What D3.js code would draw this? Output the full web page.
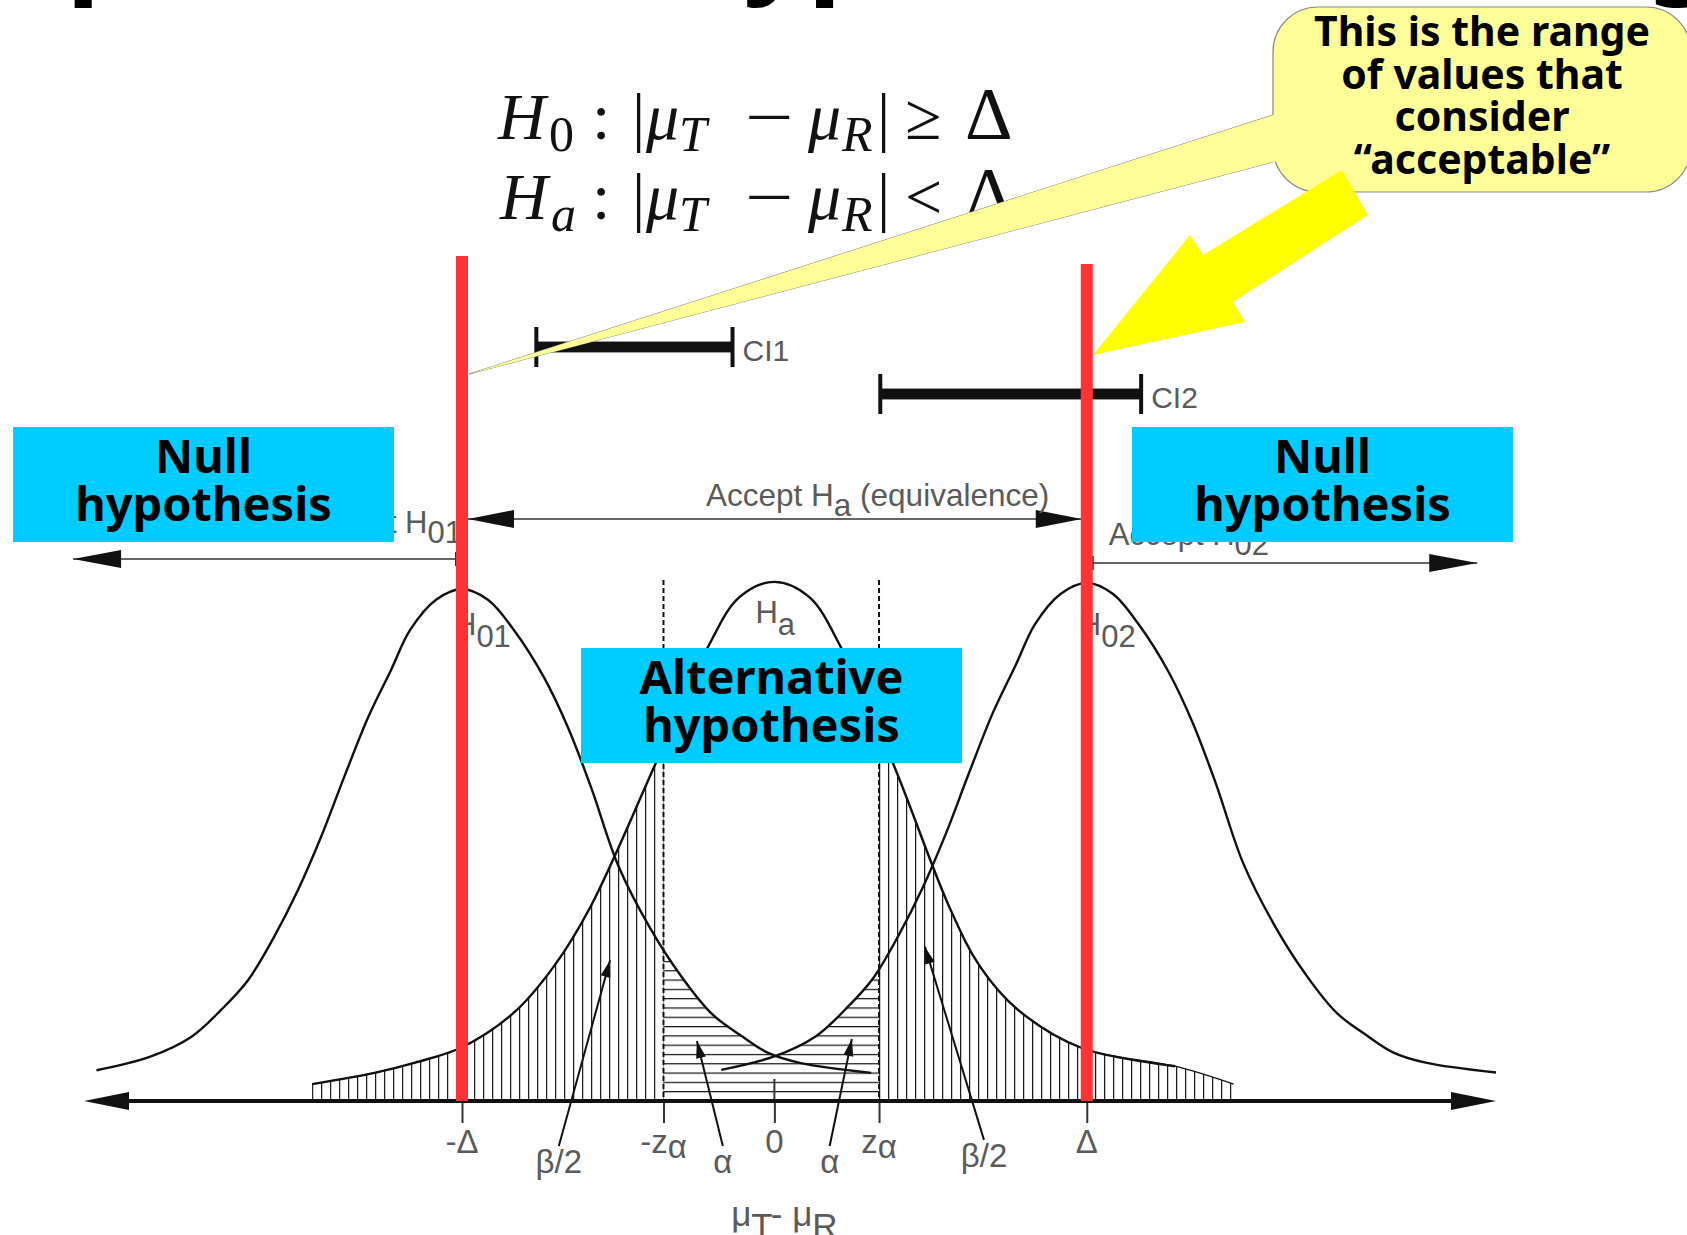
<!DOCTYPE html>
<html>
<head>
<meta charset="utf-8">
<script src="https://cdnjs.cloudflare.com/ajax/libs/d3/7.8.5/d3.min.js"></script>
<style>
html, body { margin: 0; padding: 0; background: #fff; }
svg { display: block; }
</style>
</head>
<body>
<svg id="chart" width="1687" height="1235"></svg>
<script>
// ---- data (x in units of delta, heights relative to the H01 peak)
var tickValues = [-1, -0.355, 0, 0.335, 1]
var tickLabels = ["-Δ", "-zα", "0", "zα", "Δ"]

// null curves (H01, H02): same shape
var nullOffsets = [-1.17, -1.0, -0.867, -0.771, -0.685, -0.602, -0.525, -0.451, -0.377, -0.30, -0.227, -0.166, -0.083, 0,
                   0.083, 0.166, 0.262, 0.339, 0.413, 0.5, 0.6, 0.7, 0.8, 0.9, 0.98, 1.085, 1.31]
var nullHeights = [0.06, 0.086, 0.125, 0.178, 0.236, 0.32, 0.412, 0.516, 0.633, 0.75, 0.842, 0.92, 0.979, 1.0,
                   0.979, 0.92, 0.828, 0.73, 0.613, 0.46, 0.34, 0.245, 0.17, 0.125, 0.094, 0.074, 0.055]
var nullCentres = [-1, 1]
var nullPeaks = [1.0, 1.012]
var nullNames = ["01", "02"]

// alternative curve (Ha), centred on 0; the last point only bounds the hatching
var altOffsets = [-1.48, -1.28, -1.15, -1.0, -0.835, -0.707, -0.589, -0.378, -0.214, -0.112, 0,
                  0.112, 0.214, 0.378, 0.56, 0.659, 0.78, 0.982, 1.283, 1.47]
var altHeights = [0.033, 0.055, 0.075, 0.105, 0.172, 0.262, 0.379, 0.662, 0.885, 0.984, 1.014,
                  0.984, 0.885, 0.662, 0.379, 0.262, 0.178, 0.104, 0.068, 0.033]

// confidence intervals
var ciNames = ["CI1", "CI2"]
var ciLow = [-0.762, 0.339]
var ciHigh = [-0.134, 1.174]

// pointer labels under the axis
var pointerLabels = ["β/2", "α", "α", "β/2"]
var pointerFrom = [[-0.690, -0.088], [-0.165, -0.088], [0.177, -0.088], [0.671, -0.076]]
var pointerTo = [[-0.526, 0.275], [-0.248, 0.117], [0.248, 0.121], [0.482, 0.301]]

var titleText = "Equivalence hypothesis testing"

// ---- setup
var svg = d3.select("#chart")
var x = d3.scaleLinear().domain([-2.21, 2.31]).range([84, 1496])
var y = d3.scaleLinear().domain([0, 1]).range([1101, 589])
var grey = "#5a5a5a"
var sans = "Liberation Sans, Arial, sans-serif"
var bold = "Noto Sans, Open Sans, sans-serif"

function head(g, tip, from, len, hw, col){
    var dx = tip[0] - from[0], dy = tip[1] - from[1]
    var L = Math.sqrt(dx * dx + dy * dy)
    var ux = dx / L, uy = dy / L
    var bx = tip[0] - ux * len, by = tip[1] - uy * len
    g.append("path")
    .attr("d", "M" + tip + "L" + [bx - uy * hw, by + ux * hw] + "L" + [bx + uy * hw, by - ux * hw] + "Z")
    .attr("fill", col || "#111")
}

// text with lowered parts: parts = [[text, lowered]]
function subText(g, x0, y0, parts, size, anchor, drop){
    var t = g.append("text").attr("x", x0).attr("y", y0)
    .attr("font-family", sans).attr("font-size", size).attr("fill", grey)
    .attr("text-anchor", anchor || "start")
    var low = false
    parts.forEach(function(p){
        var dy = 0
        if (p[1] && !low) dy = drop
        if (!p[1] && low) dy = -drop
        low = p[1]
        t.append("tspan").attr("dy", dy).text(p[0])
    })
    return t
}

// ---- title remnant (cut off at the top)
var title = svg.append("text").attr("font-family", bold).attr("font-weight", "bold")
.attr("font-size", 100).attr("fill", "#000").text(titleText)
var tn = title.node()
var gap = tn.getStartPositionOfChar(14).x - tn.getEndPositionOfChar(1).x
var ts = 100 * 725 / (gap + 15)
title.attr("font-size", ts)
var qEnd = tn.getEndPositionOfChar(1).x
title.attr("x", 92 - (qEnd - 0.07 * ts)).attr("y", 8 - 0.24 * ts)

// ---- formula
var fLines = [
    {base: 139, toks: [["H", 1, 0, 498], ["0", 0, 1, 549], [":", 0, 0, 592], ["|", 0, 0, 632], ["μ", 1, 0, 646], ["T", 1, 1, 679],
        ["−", 0, 0, 745], ["μ", 1, 0, 808], ["R", 1, 1, 842], ["|", 0, 0, 877], ["≥", 0, 0, 905], ["Δ", 0, 0, 965]]},
    {base: 219, toks: [["H", 1, 0, 500], ["a", 1, 1, 551], [":", 0, 0, 592], ["|", 0, 0, 632], ["μ", 1, 0, 646], ["T", 1, 1, 679],
        ["−", 0, 0, 745], ["μ", 1, 0, 808], ["R", 1, 1, 842], ["|", 0, 0, 877], ["<", 0, 0, 905], ["Δ", 0, 0, 965]]}
]
var fg = svg.append("g").attr("font-family", "Liberation Serif, Times New Roman, serif").attr("fill", "#111")
fLines.forEach(function(l){
    l.toks.forEach(function(t){
        var size = t[2] ? 50 : (t[0] == "Δ" ? 74 : 66)
        var ty = l.base + (t[2] ? 12 : 0)
        var tx = fg.append("text")
        .attr("font-size", size)
        .attr("font-style", t[1] ? "italic" : "normal")
        .text(t[0])
        if (t[0] == "−") tx.attr("transform", "translate(" + t[3] + "," + ty + ") scale(1.3,1)")
        else tx.attr("x", t[3]).attr("y", ty)
    })
})

// ---- confidence intervals
var ciY = [347, 394]
var cg = svg.append("g")
ciNames.forEach(function(n, i){
    cg.append("line").attr("x1", x(ciLow[i])).attr("x2", x(ciHigh[i])).attr("y1", ciY[i]).attr("y2", ciY[i])
    .attr("stroke", "#999").attr("stroke-width", 12)
    cg.append("line").attr("x1", x(ciLow[i])).attr("x2", x(ciHigh[i])).attr("y1", ciY[i]).attr("y2", ciY[i])
    .attr("stroke", "#111").attr("stroke-width", 10)
    ;[ciLow[i], ciHigh[i]].forEach(function(v){
        cg.append("line").attr("x1", x(v)).attr("x2", x(v)).attr("y1", ciY[i] - 20).attr("y2", ciY[i] + 20)
        .attr("stroke", "#111").attr("stroke-width", 4)
    })
    cg.append("text").attr("x", x(ciHigh[i]) + 10).attr("y", ciY[i] + 14)
    .attr("font-family", sans).attr("font-size", 30).attr("fill", grey).text(n)
})

// ---- accept arrows
var ag = svg.append("g")
var accY = 519
ag.append("line").attr("x1", x(-1) + 6).attr("x2", x(1) - 5).attr("y1", accY).attr("y2", accY)
.attr("stroke", "#333").attr("stroke-width", 1.5)
head(ag, [x(-1) + 6, accY], [x(1), accY], 46, 9)
head(ag, [x(1) - 5, accY], [x(-1), accY], 46, 9)
subText(ag, 706, 506, [["Accept H", 0], ["a", 1], [" (equivalence)", 0]], 31.5, "start", 10)

var lowY = [559, 563]
var lowEnd = [-2.245, 2.25]
nullCentres.forEach(function(c, i){
    var s = c < 0 ? -1 : 1
    var x0 = x(c) + s * 6
    ag.append("line").attr("x1", x0).attr("x2", x(lowEnd[i])).attr("y1", lowY[i]).attr("y2", lowY[i])
    .attr("stroke", "#333").attr("stroke-width", 1.5)
    ag.append("line").attr("x1", x0).attr("x2", x0).attr("y1", lowY[i] - 7).attr("y2", lowY[i] + 7)
    .attr("stroke", "#333").attr("stroke-width", 2)
    head(ag, [x(lowEnd[i]), lowY[i]], [x0, lowY[i]], 48, 9)
    if (s < 0) subText(ag, x0 + 6, 533, [["Accept H", 0], [nullNames[i], 1]], 31, "end", 10)
    else subText(ag, x0 + 16, 545, [["Accept H", 0], [nullNames[i], 1]], 31, "start", 10)
})

// ---- hatching
var defs = svg.append("defs")
var smooth = d3.curveCatmullRom.alpha(0.5)
var area = d3.area().x(function(d){ return x(d[0]) }).y0(y(0)).y1(function(d){ return y(d[1]) }).curve(smooth)
var line = d3.line().x(function(d){ return x(d[0]) }).y(function(d){ return y(d[1]) }).curve(smooth)

var altPts = altOffsets.map(function(o, i){ return [o, altHeights[i]] })
var nullPts = nullCentres.map(function(c, j){
    return nullOffsets.map(function(o, i){ return [c + o, nullHeights[i] * nullPeaks[j]] })
})

defs.append("clipPath").attr("id", "altClip").append("path").attr("d", area(altPts))
var nc = defs.append("clipPath").attr("id", "nullClip")
nullPts.forEach(function(p){ nc.append("path").attr("d", area(p)) })

function vPattern(id, x0){
    var p = defs.append("pattern").attr("id", id).attr("patternUnits", "userSpaceOnUse")
    .attr("x", x0).attr("y", 0).attr("width", 9).attr("height", 10)
    p.append("line").attr("x1", 0.6).attr("x2", 0.6).attr("y1", 0).attr("y2", 10)
    .attr("stroke", "#111").attr("stroke-width", 1.2)
}
vPattern("vh1", x(altOffsets[0]))
vPattern("vh2", x(tickValues[3]))
var hp = defs.append("pattern").attr("id", "hh").attr("patternUnits", "userSpaceOnUse")
.attr("x", 0).attr("y", y(0) - 0.6).attr("width", 10).attr("height", 9.3)
hp.append("line").attr("x1", 0).attr("x2", 10).attr("y1", 0.6).attr("y2", 0.6)
.attr("stroke", "#111").attr("stroke-width", 1.2)

var hg = svg.append("g")
hg.append("rect").attr("x", x(altOffsets[0])).attr("width", x(tickValues[1]) - x(altOffsets[0]))
.attr("y", y(1.1)).attr("height", y(0) - y(1.1))
.attr("fill", "url(#vh1)").attr("clip-path", "url(#altClip)")
hg.append("rect").attr("x", x(tickValues[3])).attr("width", x(altOffsets[altOffsets.length - 1]) - x(tickValues[3]) + 1)
.attr("y", y(1.1)).attr("height", y(0) - y(1.1))
.attr("fill", "url(#vh2)").attr("clip-path", "url(#altClip)")
hg.append("rect").attr("x", x(tickValues[1])).attr("width", x(tickValues[3]) - x(tickValues[1]))
.attr("y", y(1.1)).attr("height", y(0) - y(1.1))
.attr("fill", "url(#hh)").attr("clip-path", "url(#nullClip)")
// thin edge over the hatch tails
hg.append("path").attr("d", line(altPts)).attr("fill", "none").attr("stroke", "#111").attr("stroke-width", 1.2)

// dashed critical lines
;[tickValues[1], tickValues[3]].forEach(function(v){
    hg.append("line").attr("x1", x(v)).attr("x2", x(v)).attr("y1", 580).attr("y2", y(0))
    .attr("stroke", "#111").attr("stroke-width", 2).attr("stroke-dasharray", "5,3")
})

// ---- curves
var kg = svg.append("g").attr("fill", "none").attr("stroke", "#111").attr("stroke-width", 2.4)
kg.append("path").attr("d", line(altPts.slice(0, altPts.length - 1)))
nullPts.forEach(function(p){ kg.append("path").attr("d", line(p)) })

// curve labels
nullCentres.forEach(function(c, i){
    subText(svg, x(c) - 8, 635, [["H", 0], [nullNames[i], 1]], 31, "start", 12)
})
subText(svg, x(0) - 19, 623, [["H", 0], ["a", 1]], 31, "start", 12)

// ---- axis
var axG = svg.append("g").attr("transform", "translate(0," + y(0) + ")")
axG.call(d3.axisBottom(x).tickValues(tickValues).tickSize(22).tickFormat(""))
axG.select(".domain").remove()
axG.selectAll(".tick line").attr("stroke", "#333").attr("stroke-width", 2)
axG.append("line").attr("x1", x(0)).attr("x2", x(0)).attr("y1", -22).attr("y2", 0)
.attr("stroke", "#333").attr("stroke-width", 2)

var xa = x.domain()
svg.append("line").attr("x1", x(xa[0]) + 30).attr("x2", x(xa[1]) - 30).attr("y1", y(0)).attr("y2", y(0))
.attr("stroke", "#111").attr("stroke-width", 4)
head(svg, [x(xa[0]), y(0)], [x(xa[1]), y(0)], 45, 9)
head(svg, [x(xa[1]), y(0)], [x(xa[0]), y(0)], 45, 9)

tickValues.forEach(function(v, i){
    var lab = tickLabels[i]
    var parts = lab.indexOf("α") >= 0 ? [[lab.replace("α", ""), 0], ["α", 1]] : [[lab, 0]]
    subText(svg, x(v), y(0) + 52, parts, 33, "middle", 5)
})

// pointers
pointerLabels.forEach(function(l, i){
    var f = [x(pointerFrom[i][0]), y(pointerFrom[i][1])]
    var t = [x(pointerTo[i][0]), y(pointerTo[i][1])]
    svg.append("line").attr("x1", f[0]).attr("y1", f[1]).attr("x2", t[0]).attr("y2", t[1])
    .attr("stroke", "#111").attr("stroke-width", 2)
    head(svg, t, f, 17, 5)
    subText(svg, f[0], f[1] + 27, [[l, 0]], 33, "middle", 0)
})

subText(svg, x(0) + 10, 1226, [["μ", 0], ["T", 1], ["- μ", 0], ["R", 1]], 35, "middle", 12)

// ---- red limits
var redTop = [256, 264]
nullCentres.forEach(function(c, i){
    svg.append("line").attr("x1", x(c)).attr("x2", x(c)).attr("y1", redTop[i]).attr("y2", y(0))
    .attr("stroke", "#ff3333").attr("stroke-width", 12)
})

// ---- cyan boxes
var boxes = [
    {x: 13, y: 427, lines: ["Null", "hypothesis"]},
    {x: 1132, y: 427, lines: ["Null", "hypothesis"]},
    {x: 581, y: 648, lines: ["Alternative", "hypothesis"]}
]
boxes.forEach(function(b){
    svg.append("rect").attr("x", b.x).attr("y", b.y).attr("width", 381).attr("height", 115).attr("fill", "#00ccff")
    b.lines.forEach(function(t, j){
        svg.append("text").attr("x", b.x + 190.5).attr("y", b.y + 46 + j * 48)
        .attr("text-anchor", "middle").attr("font-family", bold).attr("font-weight", "bold")
        .attr("font-size", 47).attr("fill", "#000").text(t)
    })
})

// ---- callout
var tip = [469, 374]
svg.append("path").attr("d", "M" + tip + "L1273,115L1273,162Z")
.attr("fill", "#ffff99").attr("stroke", "#888").attr("stroke-width", 1)
svg.append("rect").attr("x", 1273).attr("y", 7).attr("width", 418).attr("height", 185).attr("rx", 45)
.attr("fill", "#ffff99").attr("stroke", "#888").attr("stroke-width", 1.2)
svg.append("path").attr("d", "M" + tip + "L1292,109L1292,157Z").attr("fill", "#ffff99")
var callLines = ["This is the range", "of values that", "consider", "\u201Cacceptable\u201D"]
callLines.forEach(function(t, j){
    svg.append("text").attr("x", 1482).attr("y", 46 + j * 42.5)
    .attr("text-anchor", "middle").attr("font-family", bold).attr("font-weight", "bold")
    .attr("font-size", 41).attr("fill", "#000").text(t)
})

// ---- big yellow arrow
svg.append("path")
.attr("d", "M1093,355L1190,235L1203,255L1342,170L1368,215L1233,302L1245,322Z")
.attr("fill", "#ffff00")
</script>
</body>
</html>
